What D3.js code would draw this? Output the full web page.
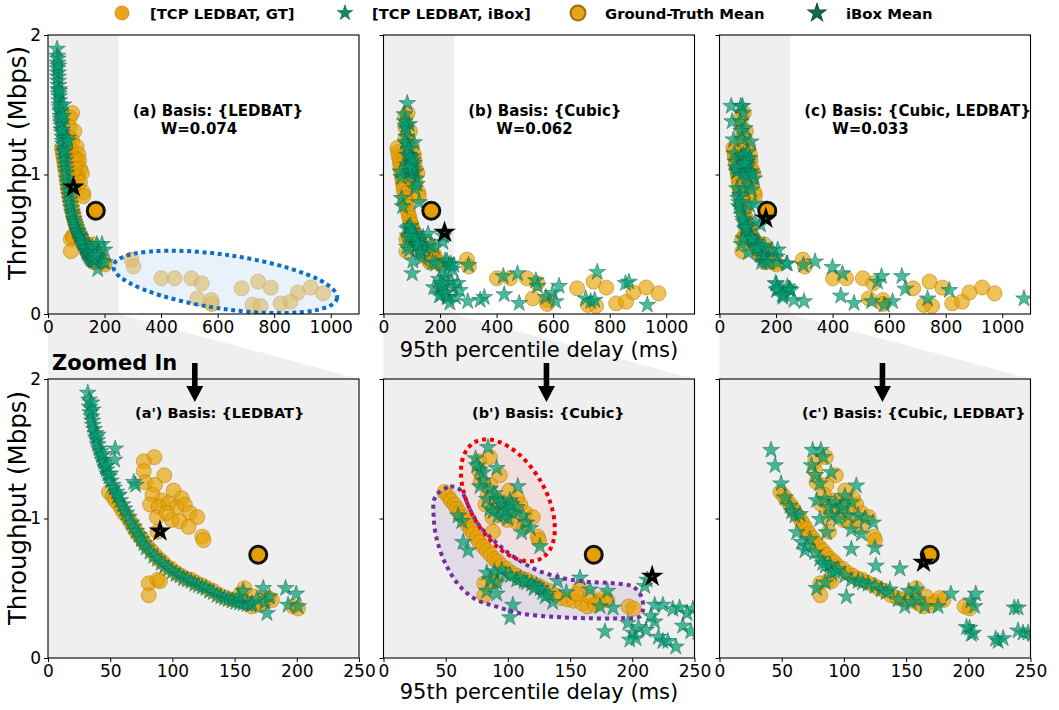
<!DOCTYPE html>
<html><head><meta charset="utf-8">
<script src="https://cdn.jsdelivr.net/npm/d3@7"></script>
<style>body{margin:0;background:#fff} text{font-family:"DejaVu Sans",sans-serif}</style>
</head><body><svg id="c" width="1059" height="710" xmlns="http://www.w3.org/2000/svg"></svg>
<script>
// ---------------- DATA ----------------
// [95th percentile delay (ms), throughput (Mbps)]
const gtPoints = [
 // upper cluster
 [85.5,1.44],[77,1.41],[77,1.34],[93.5,1.31],[78,1.26],[86,1.24],[101,1.20],[84,1.17],[91.5,1.13],[107.5,1.145],
 [82,1.10],[89,1.085],[97,1.11],[103.5,1.085],[110,1.10],[114,1.04],[120,1.01],[99.5,0.99],[106,0.98],[113,0.94],
 [124,0.87],[125,0.845],[87.5,1.01],[95.5,1.04],[88,0.905],
 // small lower cluster
 [81,0.535],[88,0.56],[81,0.45],[90,0.55],
 // main curve
 [49,1.19],[52,1.16],[54,1.13],[57,1.10],[59,1.07],[61,1.04],[64,1.01],[66,0.98],[68,0.95],[70,0.92],[72,0.89],
 [75,0.86],[77,0.83],[80,0.80],[83,0.77],[86,0.74],[89,0.71],[92,0.69],[95,0.66],[99,0.64],[103,0.61],[107,0.59],
 [111,0.57],[115,0.56],[119,0.54],[124,0.52],[128,0.50],[133,0.48],[138,0.45],[143,0.43],[148,0.42],[153,0.41],
 // right tail
 [158,0.50],[160,0.39],[164,0.37],[166,0.44],[173,0.40],[180,0.415],[177,0.43],[197,0.37],[201,0.355],[155,0.46],[170,0.38],
 // far region
 [295,0.39],[302,0.34],[401,0.256],[448,0.256],[507,0.256],[544,0.22],[528,0.112],[578,0.10],[579,0.072],[685,0.184],
 [743,0.232],[788,0.189],[723,0.065],[752,0.057],[823,0.076],[858,0.088],[884,0.155],[929,0.19],[973,0.148]
];
const iboxLedbat = [
 [32,1.90],[33,1.85],[33.5,1.80],[34,1.76],[35,1.73],[35.5,1.70],[36,1.67],[37,1.64],[38,1.61],[38.5,1.58],[39.5,1.56],
 [40,1.53],[41,1.50],[42,1.48],[43,1.45],[44,1.42],[45,1.40],[46,1.37],[47,1.35],[48,1.32],[49,1.30],[50.5,1.27],
 [52,1.24],[53,1.22],[55,1.19],[56,1.16],[58,1.13],[60,1.10],[61.5,1.07],[63,1.04],[65,1.01],[67,0.97],[69,0.94],
 [71,0.91],[73,0.88],[75,0.85],[77,0.82],[79,0.79],[82,0.76],[85,0.73],[88,0.71],[91,0.68],[94,0.66],[97,0.64],
 [100,0.62],[103,0.60],[106,0.59],[109,0.57],[112,0.56],[115,0.55],[118,0.53],[121,0.52],[124,0.51],[127,0.50],
 [130,0.48],[133,0.47],[136,0.45],[139,0.44],[142,0.43],[145,0.42],[148,0.41],[151,0.40],[154,0.395],[157,0.39],
 [160,0.385],[163,0.38],[36,1.78],[40,1.60],[44,1.46],[47,1.38],[35,1.83],[50,1.32],[57,1.17],
 [54,1.50],[53.5,1.42],[69,1.26],[70.5,1.24],[153,0.44],[157,0.48],[164,0.39],[173,0.50],[174.5,0.40],[176,0.32],
 [178,0.44],[191,0.50],[199.5,0.46],[193,0.38],[201,0.37],[168,0.42]
];
const iboxCubic = [
 [84,1.51],[74,1.43],[91,1.36],[77.5,1.35],[80,1.27],[85.6,1.21],[108,1.23],[91,1.14],[101.6,1.13],[96,1.09],
 [107,1.08],[85.6,1.07],[112,1.02],[92,1.02],[115,0.97],[100,1.0],[111,0.90],[125.7,0.80],[83,1.14],[77.5,1.23],
 [96,1.02],[104,1.04],[89,1.18],[94,1.12],[99,1.06],[103,1.10],[88,1.05],[118,0.93],[80,1.33],[75,1.38],
 [63,0.98],[64,0.83],[68,0.77],[83,0.61],[89,0.62],[91,0.54],[83,0.48],[91,0.46],[104,0.38],[101.6,0.29],
 [107,0.56],[115,0.54],[123,0.52],[128,0.47],[136,0.40],[147,0.47],[140,0.55],[158,0.575],[166,0.49],[174,0.37],
 [180,0.48],[184.5,0.36],[178,0.19],[98,0.60],[110,0.57],[119,0.53],[126,0.50],[132,0.46],[95,0.63],[102,0.59],
 [113,0.55],[121,0.50],[130,0.44],[86,0.56],[60,1.02],
 [210,0.515],[212,0.56],[218,0.38],[224.6,0.38],[232.6,0.35],[238,0.36],[248.7,0.35],[196.5,0.25],[200.5,0.18],
 [203,0.14],[198,0.13],[211,0.20],[218,0.26],[224.6,0.12],[228.6,0.12],[240.6,0.23],[247,0.19],[205,0.22],[215,0.30],
 [301,0.35],[356.5,0.12],[298,0.09],[423.5,0.27],[427,0.14],[474,0.29],[480,0.077],[539,0.24],[545,0.20],[574,0.12],
 [598,0.15],[609,0.09],[621,0.20],[715,0.11],[733,0.09],[756,0.30],[747,0.10],[856,0.22],[868,0.23],[933,0.065],
 [342,0.10],[262,0.22],[244,0.32],[221,0.15],[255,0.12],[270,0.17],[235,0.08]
];
const iboxCubicLedbat = [
 [41.4,1.49],[44.7,1.38],[49.5,1.25],
 [52.7,1.15],[56.7,1.09],[60.7,1.02],[64.7,1.03],[62,0.90],[66,0.83],[68.7,0.77],[72.7,0.85],[76.7,0.755],[80.7,0.71],
 [85,0.66],[88.8,0.67],[90,0.61],[95.5,0.635],[100.8,0.59],[106,0.56],[111.5,0.55],[119.5,0.53],[125,0.515],[130,0.49],
 [137,0.49],[143.6,0.42],[149,0.37],[154,0.40],[159.6,0.42],[165,0.37],[175.7,0.37],[186,0.46],[202,0.41],[206,0.46],
 [205,0.37],[78,0.50],[85,0.54],[102,0.44],[106,0.78],[125.7,0.66],[145,0.64],[152,0.48],[158.6,0.49],
 [58,1.05],[70,0.80],[83,0.68],[93,0.62],[115,0.54],[134,0.47],
 [74.9,1.49],[81.5,1.49],[83.4,1.44],[74,1.38],[89.6,1.33],[77,1.31],[80.7,1.25],[110,1.235],[78,1.13],[84.8,1.14],
 [92.8,1.115],[100.8,1.16],[96.8,1.07],[106,1.115],[90,1.02],[103.5,1.02],[111.5,1.02],[123.5,0.97],[80.7,0.995],
 [86,0.90],[106,0.92],[114,0.89],[124.9,0.79],[95.5,0.995],[99,1.09],[88,1.08],[117,1.0],
 [201,0.215],[202.4,0.17],[224,0.12],[228,0.14],[237,0.36],[244,0.18],[248,0.18],
 [198.6,0.22],[204,0.18],[240,0.196],[251.8,0.17],[222,0.136],[263.6,0.10],[299,0.09],[240,0.36],[297,0.35],
 [338,0.375],[399.5,0.335],[435,0.29],[429,0.13],[476,0.077],[538,0.09],[559,0.23],[573,0.27],[583,0.065],
 [612,0.09],[645,0.27],[657,0.18],[736,0.11],[813,0.17],[1077,0.11]
];
const iboxSeries = [iboxLedbat, iboxCubic, iboxCubicLedbat];
const gtMean = [169, 0.74];
const iboxMeans = [[90,0.91],[216,0.585],[164,0.685]];
const panelLabels = ["(a) Basis: {LEDBAT}", "(b) Basis: {Cubic}", "(c) Basis: {Cubic, LEDBAT}"];
const wLabels = ["W=0.074", "W=0.062", "W=0.033"];
const zoomLabels = ["(a') Basis: {LEDBAT}", "(b') Basis: {Cubic}", "(c') Basis: {Cubic, LEDBAT}"];
const fullTicks = [0,200,400,600,800,1000];
const zoomTicks = [0,50,100,150,200,250];
const yTicks = [0,1,2];
const legendLabels = ["[TCP LEDBAT, GT]", "[TCP LEDBAT, iBox]", "Ground-Truth Mean", "iBox Mean"];
// purple region outline in (b') data coordinates
const purpleOutline = [[41.7,1.157],[53.7,1.229],[61.7,1.205],[69.7,1.062],[77.7,0.942],[91.1,0.823],[104.4,0.727],
 [123.1,0.631],[144.5,0.572],[163.2,0.547],[184.5,0.536],[200.6,0.511],[207.3,0.44],[208.6,0.344],[206,0.296],
 [192.6,0.285],[163.2,0.285],[136.5,0.296],[109.8,0.32],[91.1,0.368],[75.1,0.416],[61.7,0.511],[51,0.655],[43,0.846],[40.3,1.013]];

// ---------------- LAYOUT ----------------
const svg = d3.select("#c");
const colX = [48, 383.5, 719.5], PW = 311, PH = 279, topY = 35, botY = 379;
const GREY = "#efefef";
const GT_FILL = "#E69F00", IB_FILL = "#009E73";
const starPath = d3.symbol(d3.symbolStar, 88)();
const defs = svg.append("defs");

function drawPoints(g, x, y, iboxData) {
  g.append("g").selectAll("circle").data(gtPoints).join("circle")
    .attr("cx", d => x(d[0])).attr("cy", d => y(d[1])).attr("r", 7.5)
    .attr("fill", GT_FILL).attr("fill-opacity", 0.65)
    .attr("stroke", "#b87f00").attr("stroke-opacity", 0.7).attr("stroke-width", 0.8);
  g.append("g").selectAll("path").data(iboxData).join("path")
    .attr("d", starPath).attr("transform", d => `translate(${x(d[0])},${y(d[1])})`)
    .attr("fill", IB_FILL).attr("fill-opacity", 0.7)
    .attr("stroke", "#0b5e45").attr("stroke-opacity", 0.8).attr("stroke-width", 0.6);
}
function drawMeans(g, x, y, m) {
  g.append("circle").attr("cx", x(gtMean[0])).attr("cy", y(gtMean[1])).attr("r", 8.5)
    .attr("fill", GT_FILL).attr("stroke", "#111").attr("stroke-width", 3);
  g.append("path").attr("d", d3.symbol(d3.symbolStar, 50)())
    .attr("transform", `translate(${x(m[0])},${y(m[1])})`)
    .attr("fill", IB_FILL).attr("stroke", "#000").attr("stroke-width", 3.2).attr("stroke-linejoin","miter");
}

for (let i = 0; i < 3; i++) {
  const x0 = colX[i];
  const xF = d3.scaleLinear().domain([0, 1100]).range([x0, x0 + PW]);
  const yF = d3.scaleLinear().domain([0, 2]).range([topY + PH, topY]);
  const xZ = d3.scaleLinear().domain([0, 250]).range([x0, x0 + PW]);
  const yZ = d3.scaleLinear().domain([0, 2]).range([botY + PH, botY]);

  // zoom trapezoid
  svg.append("polygon")
    .attr("points", [[xF(0), topY + PH], [xF(250), topY + PH], [xZ(250), botY], [xZ(0), botY]].map(p => p.join(",")).join(" "))
    .attr("fill", GREY);

  // ---- top panel ----
  defs.append("clipPath").attr("id", "ct" + i).append("rect")
    .attr("x", x0).attr("y", topY).attr("width", PW).attr("height", PH);
  const gt = svg.append("g");
  gt.append("rect").attr("x", x0).attr("y", topY).attr("width", PW).attr("height", PH).attr("fill", "#fff");
  gt.append("rect").attr("x", x0).attr("y", topY).attr("width", xF(250) - x0).attr("height", PH).attr("fill", GREY);
  const gtc = gt.append("g").attr("clip-path", `url(#ct${i})`);
  drawPoints(gtc, xF, yF, iboxSeries[i]);
  if (i === 0) {
    const cx = xF(627), cy = yF(0.23);
    gtc.append("ellipse").attr("cx", cx).attr("cy", cy).attr("rx", 113).attr("ry", 27)
      .attr("transform", `rotate(8.2,${cx},${cy})`)
      .attr("fill", "#cfe0f3").attr("fill-opacity", 0.45)
      .attr("stroke", "#0b6fc6").attr("stroke-width", 4).attr("stroke-dasharray", "4,3.6");
  }
  drawMeans(gtc, xF, yF, iboxMeans[i]);
  gt.append("rect").attr("x", x0).attr("y", topY).attr("width", PW).attr("height", PH)
    .attr("fill", "none").attr("stroke", "#000").attr("stroke-width", 1.1);
  gt.append("g").attr("transform", `translate(0,${topY + PH})`)
    .call(d3.axisBottom(xF).tickValues(fullTicks).tickSize(4).tickPadding(3).tickSizeOuter(0).tickFormat(d3.format("d")));
  gt.append("g").attr("transform", `translate(${x0},0)`)
    .call(d3.axisLeft(yF).tickValues(yTicks).tickSize(4).tickPadding(3).tickSizeOuter(0)
      .tickFormat(i === 0 ? d3.format("d") : () => ""));
  gt.append("text").attr("x", xF(0) + 84.7).attr("y", topY + 81).attr("font-weight", "bold").attr("font-size", 15)
    .text(panelLabels[i]);
  gt.append("text").attr("x", xF(0) + 112.7).attr("y", topY + 99).attr("font-weight", "bold").attr("font-size", 15)
    .text(wLabels[i]);

  // ---- bottom (zoomed) panel ----
  defs.append("clipPath").attr("id", "cb" + i).append("rect")
    .attr("x", x0).attr("y", botY).attr("width", PW).attr("height", PH);
  const gb = svg.append("g");
  gb.append("rect").attr("x", x0).attr("y", botY).attr("width", PW).attr("height", PH).attr("fill", GREY);
  const gbc = gb.append("g").attr("clip-path", `url(#cb${i})`);
  let redE, purpleP;
  if (i === 1) {
    const cx = xZ(100), cy = yZ(1.13);
    redE = () => gbc.append("ellipse").attr("cx", cx).attr("cy", cy).attr("rx", 67).attr("ry", 38)
      .attr("transform", `rotate(60,${cx},${cy})`);
    const line = d3.line().x(d => xZ(d[0])).y(d => yZ(d[1])).curve(d3.curveCatmullRomClosed.alpha(0.5));
    purpleP = () => gbc.append("path").attr("d", line(purpleOutline));
    purpleP().attr("fill", "#7030a0").attr("fill-opacity", 0.1).attr("stroke", "none");
    redE().attr("fill", "#ff2020").attr("fill-opacity", 0.08).attr("stroke", "none");
  }
  drawPoints(gbc, xZ, yZ, iboxSeries[i]);
  if (i === 1) {
    purpleP().attr("fill", "none").attr("stroke", "#7030a0").attr("stroke-width", 4).attr("stroke-dasharray", "4,4");
    redE().attr("fill", "none").attr("stroke", "#f00000").attr("stroke-width", 4).attr("stroke-dasharray", "4,4");
  }
  drawMeans(gbc, xZ, yZ, iboxMeans[i]);
  gb.append("rect").attr("x", x0).attr("y", botY).attr("width", PW).attr("height", PH)
    .attr("fill", "none").attr("stroke", "#000").attr("stroke-width", 1.1);
  gb.append("g").attr("transform", `translate(0,${botY + PH})`)
    .call(d3.axisBottom(xZ).tickValues(zoomTicks).tickSize(4).tickPadding(3).tickSizeOuter(0));
  gb.append("g").attr("transform", `translate(${x0},0)`)
    .call(d3.axisLeft(yZ).tickValues(yTicks).tickSize(4).tickPadding(3).tickSizeOuter(0)
      .tickFormat(i === 0 ? d3.format("d") : () => ""));
  gb.append("text").attr("x", x0 + (i === 0 ? 87 : i === 1 ? 88.5 : 82.5)).attr("y", botY + 39)
    .attr("font-weight", "bold").attr("font-size", 14.5).text(zoomLabels[i]);

  // arrow
  const ax = [xZ(118), xZ(131), xZ(131)][i];
  svg.append("polygon")
    .attr("points", [[ax - 2.8, 363], [ax + 2.8, 363], [ax + 2.8, 386], [ax + 8.5, 386], [ax, 402], [ax - 8.5, 386], [ax - 2.8, 386]].map(p => p.join(",")).join(" "))
    .attr("fill", "#000");
}

svg.selectAll(".tick text").attr("font-size", 17).attr("fill", "#000").style("font-family", '"DejaVu Sans",sans-serif');
svg.selectAll(".domain").remove();
svg.selectAll(".tick line").attr("stroke", "#000").attr("stroke-width", 1);

// axis labels
[163, 508].forEach(cy => {
  svg.append("text").attr("transform", `translate(26,${cy}) rotate(-90)`).attr("text-anchor", "middle")
    .attr("font-size", 24.5).text("Throughput (Mbps)");
});
svg.append("text").attr("x", colX[1] + PW / 2).attr("y", 357).attr("text-anchor", "middle").attr("font-size", 21)
  .text("95th percentile delay (ms)");
svg.append("text").attr("x", colX[1] + PW / 2).attr("y", 699).attr("text-anchor", "middle").attr("font-size", 21)
  .text("95th percentile delay (ms)");
svg.append("text").attr("x", 52).attr("y", 370).attr("font-weight", "bold").attr("font-size", 21).text("Zoomed In");

// legend
const lg = svg.append("g");
const lx = [122, 345, 578, 817], tx = [150, 372, 605, 846], ly = 13;
lg.append("circle").attr("cx", lx[0]).attr("cy", ly).attr("r", 7).attr("fill", "#E8A41C").attr("stroke", "#c48a10").attr("stroke-width", 0.8);
lg.append("path").attr("d", d3.symbol(d3.symbolStar, 75)()).attr("transform", `translate(${lx[1]},${ly})`).attr("fill", "#138a62").attr("stroke", "#0b5e45").attr("stroke-width", 0.6);
lg.append("circle").attr("cx", lx[2]).attr("cy", ly).attr("r", 7.5).attr("fill", "#E8A41C").attr("stroke", "#a06e00").attr("stroke-width", 2);
lg.append("path").attr("d", d3.symbol(d3.symbolStar, 95)()).attr("transform", `translate(${lx[3]},${ly})`).attr("fill", "#0f6e4f").attr("stroke", "#0a4d37").attr("stroke-width", 1.2);
legendLabels.forEach((t, k) => {
  lg.append("text").attr("x", tx[k]).attr("y", ly + 5.5).attr("font-weight", "bold").attr("font-size", 14.8).text(t);
});
</script></body></html>
